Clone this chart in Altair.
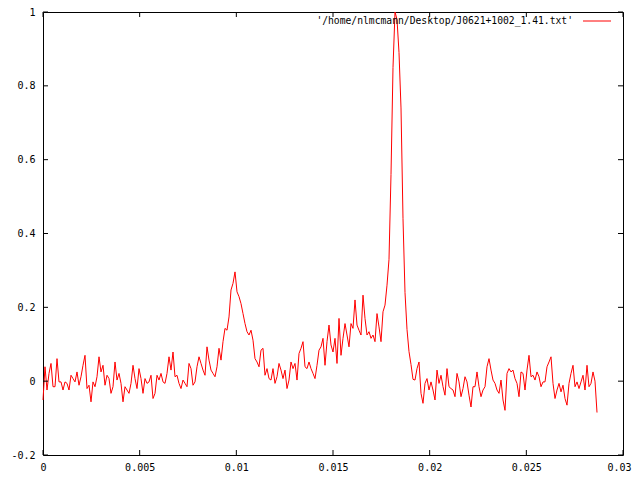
import altair as alt
import pandas as pd

# sampling grid of the trace (x axis)
X_START = 0.0
X_STEP = 0.00010345

# y values left to right
seg_a = [-0.051, 0.039, -0.024, 0.021, 0.048, -0.015, -0.015, 0.061, -0.002, -0.002,
         -0.024, -0.002, -0.006, -0.024, 0.016, 0.007, -0.002, 0.025, -0.011, 0.012,
         0.043, 0.070, -0.020, -0.011, -0.056, -0.002, -0.015, 0.012, 0.066, 0.025,
         0.043, -0.011, 0.016, 0.007, -0.033, -0.015, 0.052, 0.003, 0.021, -0.006,
         -0.056, -0.015, -0.024, -0.033, -0.006, 0.043, 0.007, -0.020, 0.034, 0.007,
         -0.033, 0.007, -0.006, -0.002, 0.016, -0.047, -0.033]
seg_b = [0.016, 0.003, 0.021, -0.002, -0.006, 0.021, 0.066, 0.030, 0.079, 0.012,
         0.016, -0.006, -0.020, 0.003, -0.006, -0.015, 0.048, 0.034, -0.011, -0.002,
         0.039, 0.066, 0.048, 0.030, 0.016, 0.093, 0.057, 0.030, 0.021, 0.012,
         0.039, 0.089, 0.057, 0.107, 0.143, 0.138, 0.174, 0.247, 0.265, 0.296,
         0.242, 0.229, 0.210, 0.183, 0.156, 0.134, 0.125, 0.138, 0.111, 0.061,
         0.052, 0.039, 0.084, 0.089, 0.016]
seg_c = [0.034, 0.007, 0.003, 0.034, -0.006, 0.012, 0.048, 0.030, 0.007, 0.030,
         -0.020, 0.003, 0.052, 0.034, 0.048, 0.003, 0.075, 0.089, 0.107, 0.039,
         0.034, 0.052, 0.034, 0.021, 0.007, 0.043, 0.084, 0.093, 0.116, 0.043,
         0.107, 0.152, 0.098, 0.079, 0.116, 0.048, 0.170, 0.070, 0.116, 0.156,
         0.125, 0.093, 0.156, 0.143, 0.220, 0.152, 0.138, 0.125, 0.233, 0.170,
         0.125, 0.134, 0.116, 0.125, 0.107, 0.183, 0.147, 0.107, 0.188, 0.206,
         0.260, 0.330]
seg_d = [0.56, 0.85, 1.0, 0.98, 0.89, 0.74, 0.44, 0.24, 0.14, 0.08, 0.045, 0.005]
seg_e = [0.003, 0.034, 0.052, -0.033, -0.060, -0.006, 0.007, -0.024, -0.002, -0.024,
         -0.051, 0.030, -0.006, 0.016, -0.015, -0.038, 0.034, -0.015, -0.020, -0.024,
         -0.042, 0.021, -0.002, -0.042, -0.020, 0.012, -0.002, -0.038, -0.070, -0.015,
         -0.015, 0.025, -0.015, -0.042, -0.024, -0.015, 0.039, 0.061, 0.030, 0.003]
seg_f = [-0.006, -0.024, -0.033, 0.003, -0.051, -0.079, 0.021, 0.034, 0.025, 0.030,
         0.007, -0.006, -0.042, 0.025, 0.021, -0.024, 0.030, 0.070, 0.012, 0.016,
         0.003, 0.025, 0.012, -0.015, -0.002, -0.002, 0.039, 0.052, 0.066, -0.006,
         -0.047, -0.024, -0.006, -0.029, -0.011, -0.047, -0.065, -0.006, 0.021, 0.043,
         -0.015, -0.002, -0.020, -0.002, 0.016, -0.024, 0.043, -0.015, -0.006, 0.025,
         0.000, -0.085]

x_ticks = [0, 0.005, 0.01, 0.015, 0.02, 0.025, 0.03]
y_ticks = [-0.2, 0, 0.2, 0.4, 0.6, 0.8, 1.0]
legend_label = "'/home/nlmcmann/Desktop/J0621+1002_1.41.txt'"

values = seg_a + seg_b + seg_c + seg_d + seg_e + seg_f
df = pd.DataFrame({
    "x": [X_START + i * X_STEP for i in range(len(values))],
    "y": values,
    "i": list(range(len(values))),
})

W, H = 580, 443
TICK = 5
FONT = "DejaVu Sans Mono"
FS = 10

xs = alt.Scale(domain=[0, 0.03], nice=False, zero=False)
ys = alt.Scale(domain=[-0.2, 1.0], nice=False, zero=False)

x_axis = alt.Axis(values=x_ticks, labelExpr="'' + datum.value", ticks=False,
                  domain=False, grid=False, labelFont=FONT, labelFontSize=FS,
                  labelColor="black", labelPadding=7, labelFlush=False, title=None,
                  labelAlign={"condition": {"test": "datum.value > 0.029", "value": "right"},
                              "value": "center"},
                  labelOffset={"condition": {"test": "datum.value > 0.029", "value": 8},
                               "value": 0})
y_axis = alt.Axis(values=y_ticks, labelExpr="'' + datum.value", ticks=False,
                  domain=False, grid=False, labelFont=FONT, labelFontSize=FS,
                  labelColor="black", labelPadding=8, labelFlush=False, title=None)

line = alt.Chart(df).mark_line(color="#ff0000", strokeWidth=1).encode(
    x=alt.X("x:Q", scale=xs, axis=x_axis, title=None),
    y=alt.Y("y:Q", scale=ys, axis=y_axis, title=None),
    order="i:Q",
)

xt = pd.DataFrame({"t": x_ticks})
yt = pd.DataFrame({"t": y_ticks})

bottom_ticks = alt.Chart(xt).mark_rule(color="black", strokeWidth=1).encode(
    x=alt.X("t:Q", scale=xs, axis=x_axis, title=None), y=alt.value(H), y2=alt.value(H - TICK))
top_ticks = alt.Chart(xt).mark_rule(color="black", strokeWidth=1).encode(
    x=alt.X("t:Q", scale=xs, axis=x_axis, title=None), y=alt.value(0), y2=alt.value(TICK))
left_ticks = alt.Chart(yt).mark_rule(color="black", strokeWidth=1).encode(
    y=alt.Y("t:Q", scale=ys, axis=y_axis, title=None), x=alt.value(0), x2=alt.value(TICK))
right_ticks = alt.Chart(yt).mark_rule(color="black", strokeWidth=1).encode(
    y=alt.Y("t:Q", scale=ys, axis=y_axis, title=None), x=alt.value(W), x2=alt.value(W - TICK))

legend_text = alt.Chart(pd.DataFrame({"label": [legend_label]})).mark_text(
    align="right", baseline="middle", font=FONT, fontSize=9.7, color="black"
).encode(x=alt.value(530), y=alt.value(9), text="label:N")
legend_line = alt.Chart(pd.DataFrame({"k": [0]})).mark_rule(color="#ff0000", strokeWidth=1).encode(
    x=alt.value(540), x2=alt.value(568), y=alt.value(9))

chart = alt.layer(
    line, bottom_ticks, top_ticks, left_ticks, right_ticks, legend_text, legend_line
).properties(
    width=W, height=H,
    autosize=alt.AutoSizeParams(type="none"),
    padding={"left": 35, "top": 4, "right": 9, "bottom": 17},
    background="white",
).configure_view(stroke="black", strokeWidth=1)

chart.save("out.html", embed_options={"renderer": "svg", "actions": False})
